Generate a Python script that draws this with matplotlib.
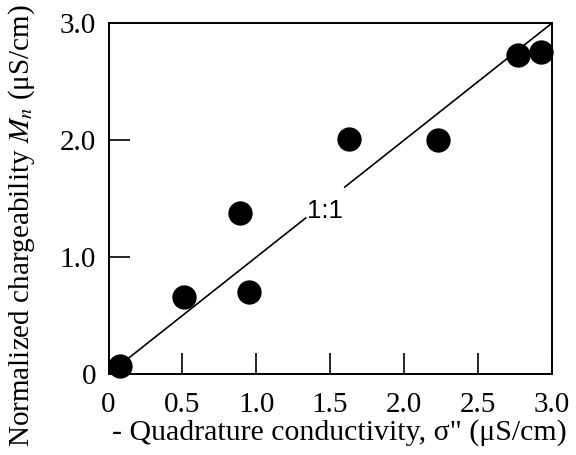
import matplotlib
matplotlib.use("Agg")
import matplotlib.pyplot as plt

# Quadrature conductivity vs normalized chargeability (uS/cm)
quad_cond = [0.08, 0.51, 0.95, 0.89, 1.63, 2.23, 2.77, 2.93]
norm_charge = [0.07, 0.66, 0.70, 1.38, 2.01, 2.00, 2.73, 2.76]

x_ticks = [0, 0.5, 1.0, 1.5, 2.0, 2.5, 3.0]
x_tick_labels = ["0", "0.5", "1.0", "1.5", "2.0", "2.5", "3.0"]
y_ticks = [0, 1.0, 2.0, 3.0]
y_tick_labels = ["0", "1.0", "2.0", "3.0"]

plt.rcParams["font.family"] = ["Liberation Serif", "DejaVu Serif"]
plt.rcParams["mathtext.fontset"] = "stix"

fig = plt.figure(figsize=(5.76, 4.55), dpi=100)
ax = fig.add_axes([0.1884, 0.178, 0.7691, 0.7704])

# 1:1 reference line, broken around its label
ax.plot([0, 1.335], [0, 1.335], color="black", lw=1.2, zorder=2)
ax.plot([1.60, 3.0], [1.60, 3.0], color="black", lw=1.2, zorder=2)
ax.text(1.466, 1.395, "1:1", family="Liberation Sans", fontsize=18.5,
        ha="center", va="center")

ax.plot(quad_cond, norm_charge, "o", color="black", ms=16.5,
        clip_on=False, zorder=3)

ax.set_xlim(0, 3.0)
ax.set_ylim(0, 3.0)
ax.set_xticks(x_ticks)
ax.set_xticklabels(x_tick_labels)
ax.set_yticks(y_ticks)
ax.set_yticklabels(y_tick_labels)
ax.tick_params(direction="in", length=15, width=1.2, labelsize=21)
ax.tick_params(axis="x", pad=13)
ax.tick_params(axis="y", pad=9)

for s in ax.spines.values():
    s.set_linewidth(1.4)

ax.set_xlabel("- Quadrature conductivity, σ\" (μS/cm)", fontsize=21.5)
ax.set_ylabel(r"Normalized chargeability $M_n$ (μS/cm)", fontsize=21)
ax.xaxis.set_label_coords(0.52, -0.168)
ax.yaxis.set_label_coords(-0.195, 0.422)
ax.xaxis.label.set_va("center")
ax.yaxis.label.set_va("center")

fig.savefig("out.png", dpi=100)
